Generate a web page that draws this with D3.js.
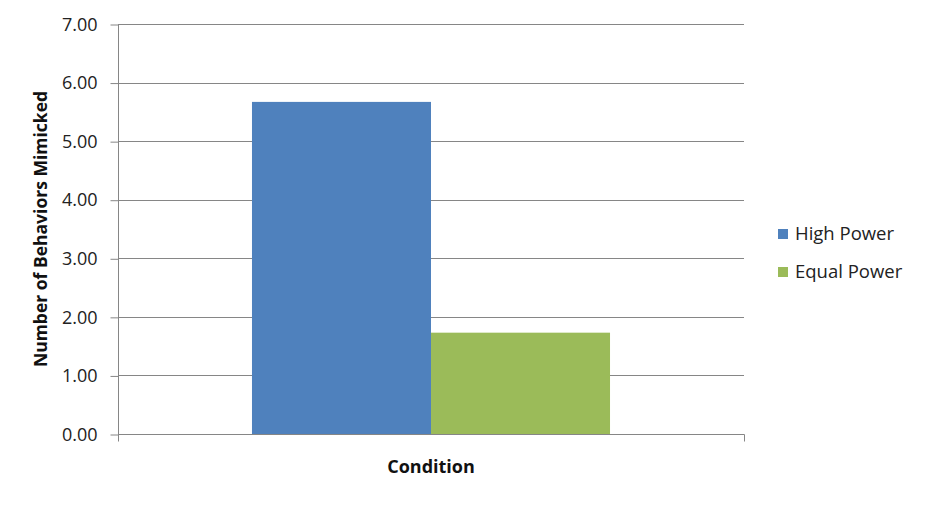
<!DOCTYPE html>
<html><head><meta charset="utf-8">
<script src="https://cdn.jsdelivr.net/npm/d3@7"></script>
<style>body{margin:0;background:#fff;} text{font-family:"Open Sans","Noto Sans",sans-serif;}</style>
</head><body>
<svg id="c" width="926" height="506"></svg>
<script>
const categories = ["Condition"];
const seriesNames = ["High Power", "Equal Power"];
const seriesValues = [5.67, 1.73];
const seriesColors = ["#4f81bd", "#9bbb59"];
const yTicks = [0,1,2,3,4,5,6,7];

const svg = d3.select("#c");
const m = {left:118, right:744, top:24, bottom:434};
const y = d3.scaleLinear().domain([0,7]).range([m.bottom, m.top]);
const x = d3.scaleBand().domain(categories).range([m.left, m.right]).paddingInner(0.2723).paddingOuter(0.2723);
const xs = d3.scaleBand().domain(seriesNames).range([0, x.bandwidth()]);
const grid = "#868686";

svg.append("g").selectAll("line").data(yTicks.filter(d=>d>0)).join("line")
  .attr("x1", m.left).attr("x2", m.right)
  .attr("y1", d=>Math.round(y(d))+0.5).attr("y2", d=>Math.round(y(d))+0.5)
  .attr("stroke", grid).attr("stroke-width",1);

svg.append("g").selectAll("rect").data(seriesNames).join("rect")
  .attr("x", (d)=>x(categories[0]) + xs(d))
  .attr("width", xs.bandwidth())
  .attr("y", (d,i)=>y(seriesValues[i]))
  .attr("height", (d,i)=>y(0)-y(seriesValues[i]))
  .attr("fill", (d,i)=>seriesColors[i]);

const yAxis = d3.axisLeft(y).tickValues(yTicks).tickFormat(d3.format(".2f")).tickSizeInner(8).tickSizeOuter(0).tickPadding(13);
const gy = svg.append("g").attr("transform", `translate(${m.left+0.5},0.5)`).call(yAxis);
gy.attr("font-size", 18).attr("font-family", "Open Sans, sans-serif");
gy.selectAll("line,path").attr("stroke", grid);
gy.select("path").attr("d", `M0,${m.top}V${m.bottom+7}`);
gy.selectAll("text").attr("font-size", 18).attr("fill", "#222");

const gx = svg.append("g").attr("transform", `translate(0,${m.bottom+0.5})`);
gx.append("line").attr("x1", m.left).attr("x2", m.right+0.5).attr("stroke", grid);
gx.append("line").attr("x1", m.right+0.5).attr("x2", m.right+0.5).attr("y1",0).attr("y2",7).attr("stroke", grid);

svg.append("text").attr("x", (m.left+m.right)/2).attr("y", 473).attr("text-anchor","middle")
  .attr("font-weight","bold").attr("font-size",18).attr("fill","#111").text("Condition");
svg.append("text").attr("transform", `translate(47,${(m.top+m.bottom)/2}) rotate(-90)`).attr("text-anchor","middle")
  .attr("font-weight","bold").attr("font-size",17.5).attr("fill","#111").text("Number of Behaviors Mimicked");

const lg = svg.append("g").selectAll("g").data(seriesNames).join("g")
  .attr("transform", (d,i)=>`translate(778,${229 + i*38})`);
lg.append("rect").attr("width",10).attr("height",10).attr("fill",(d,i)=>seriesColors[i]);
lg.append("text").attr("x",17).attr("y",11).attr("font-size",18.5).attr("fill","#222").text(d=>d);
</script>
</body></html>
